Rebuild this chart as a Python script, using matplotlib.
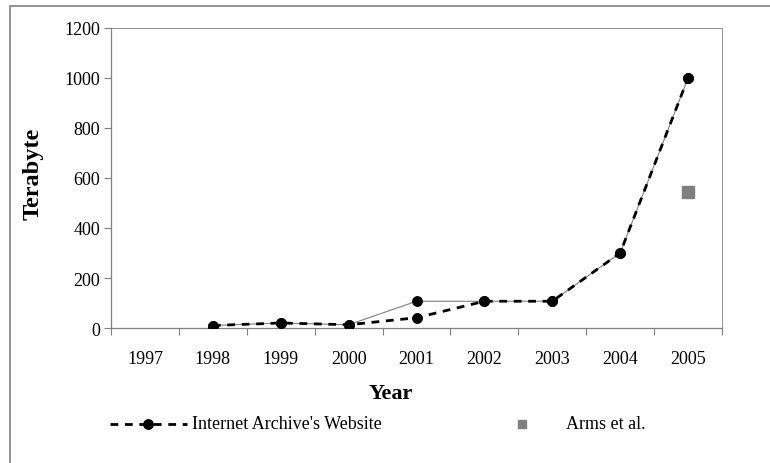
import numpy as np
import matplotlib.pyplot as plt
from matplotlib.patches import Rectangle
from matplotlib.lines import Line2D

# データ
years = ['1997', '1998', '1999', '2000', '2001', '2002', '2003', '2004', '2005']
website_years = ['1998', '1999', '2000', '2001', '2002', '2003', '2004', '2005']
website_tb = [10, 20, 13, 41, 107, 107, 300, 1000]      # 破線の系列
website_alt_tb = [10, 20, 13, 107, 107, 107, 300, 1000]  # 細い実線の系列
arms_years = ['2005']
arms_tb = [545]

plt.rcParams['font.family'] = ['Liberation Serif', 'DejaVu Serif']

W, H = 770, 464
fig = plt.figure(figsize=(W / 100, H / 100), dpi=100)
ax = fig.add_axes([111 / W, 1 - 329 / H, (722 - 111) / W, 300 / H])

pos = {y: i for i, y in enumerate(years)}
xw = [pos[y] for y in website_years]
xa = [pos[y] for y in arms_years]

dash = (0, (2.8, 2.4))
ax.plot(xw, website_alt_tb, color='#808080', lw=0.8, marker='o', ms=6.8,
        mfc='black', mec='black', zorder=3)
ax.plot(xw, website_tb, color='black', lw=2.0, ls=dash, marker='o', ms=6.8,
        mfc='black', mec='black', zorder=4)
ax.plot(xa, arms_tb, ls='none', marker='s', ms=9, color='#808080', zorder=5)

ax.set_xlim(-0.5, len(years) - 0.5)
ax.set_ylim(0, 1200)
ax.set_yticks(np.arange(0, 1201, 200))
ax.set_xticks(range(len(years)))
ax.set_xticklabels(years)
ax.set_xticks(np.arange(-0.5, len(years), 1), minor=True)
ax.tick_params(axis='x', which='major', length=0, pad=15.5, labelsize=13)
ax.tick_params(axis='x', which='minor', length=5, color='#808080', width=0.8)
ax.tick_params(axis='y', length=5, color='#808080', width=0.8, labelsize=13, pad=3)

for s in ['left', 'bottom']:
    ax.spines[s].set_color('#808080')
    ax.spines[s].set_linewidth(0.9)
for s in ['top', 'right']:
    ax.spines[s].set_color('#808080')
    ax.spines[s].set_linewidth(0.6)
    ax.spines[s].set_linestyle((0, (1, 1)))

# 軸ラベル
fig.text(391 / W, 1 - 394 / H, 'Year', fontsize=16, fontweight='bold',
         ha='center', va='center')
fig.text(33 / W, 1 - 174 / H, 'Terabyte', fontsize=17.5, fontweight='bold',
         ha='center', va='center', rotation=90)

# 凡例（手動で配置）
ly = 1 - 425 / H
fig.add_artist(Line2D([110 / W, 187 / W], [ly, ly], color='black', lw=2.0, ls=dash))
fig.add_artist(Line2D([148 / W], [ly], color='black', marker='o', ms=6.8))
fig.text(192 / W, ly, "Internet Archive's Website", fontsize=13, va='center', ha='left')
fig.add_artist(Line2D([522 / W], [ly], color='#808080', marker='s', ms=6))
fig.text(566 / W, ly, 'Arms et al.', fontsize=13, va='center', ha='left')

# 外枠
fig.add_artist(Rectangle((10 / W, -0.1), 1.0, 1 - 7 / H + 0.1, fill=False,
                         ec='#808080', lw=1.2, transform=fig.transFigure))

fig.savefig('out.png', dpi=100)
